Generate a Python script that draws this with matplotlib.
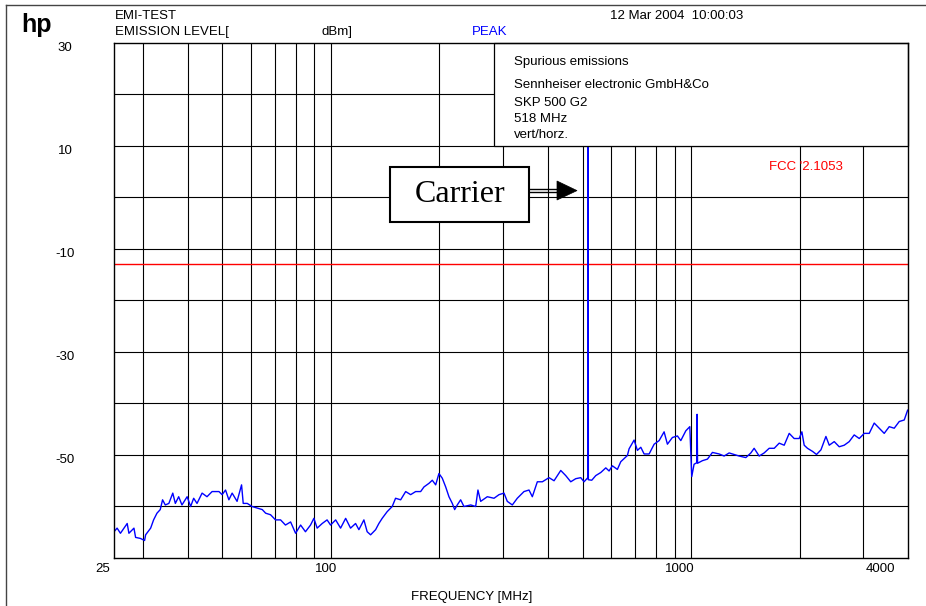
import matplotlib
matplotlib.use('Agg')
import matplotlib.pyplot as plt
from matplotlib.patches import Rectangle, Polygon
from matplotlib.lines import Line2D
from matplotlib.ticker import NullLocator
import matplotlib.transforms as mtransforms

# ---------------- data ----------------
freq_mhz = [
    25.0, 25.5, 26.05, 27.2, 27.5, 28.4, 28.7, 29.6, 30.4, 30.6,
    31.6, 32.2, 32.9, 33.6, 34.1, 34.7, 35.5, 36.4, 37.0, 37.8,
    38.6, 39.9, 40.8, 41.6, 42.5, 43.9, 45.3, 46.8, 48.9, 49.9,
    51.0, 52.1, 53.2, 54.9, 56.5, 57.1, 58.6, 60.4, 62.4, 64.5,
    65.9, 68.0, 70.2, 72.5, 74.8, 77.3, 79.8, 82.4, 85.0, 87.8,
    89.7, 91.6, 94.6, 97.6, 99.8, 103.1, 106.4, 109.9, 113.4, 117.1,
    119.6, 123.5, 126.1, 128.9, 133.1, 135.9, 138.8, 143.3, 148.0, 151.2,
    156.2, 161.3, 166.5, 171.9, 177.5, 181.3, 187.2, 191.2, 195.4, 199.5,
    203.8, 208.3, 212.7, 217.3, 220.6, 224.3, 229.2, 234.1, 244.4, 252.3,
    256.0, 260.5, 271.8, 283.7, 292.9, 302.4, 308.8, 318.9, 329.2, 343.6,
    354.8, 362.4, 374.2, 386.4, 390.6, 403.3, 416.4, 434.6, 448.7, 463.3,
    478.3, 493.9, 504.4, 515.2, 517.5, 518.0, 518.5, 529.9, 543.6, 561.3,
    579.6, 591.9, 604.5, 624.2, 637.9, 651.5, 665.4, 672.7, 694.6, 709.4,
    725.0, 740.5, 764.6, 789.5, 815.2, 841.4, 859.4, 887.3, 916.1, 936.2,
    966.7, 991.7, 1004, 1019, 1037, 1039, 1042, 1075, 1110, 1146,
    1196, 1235, 1275, 1317, 1359, 1419, 1465, 1496, 1545, 1595,
    1647, 1701, 1756, 1813, 1872, 1932, 1995, 2030, 2060, 2104,
    2173, 2229, 2293, 2367, 2418, 2496, 2577, 2661, 2747, 2836,
    2929, 3024, 3122, 3223, 3328, 3436, 3548, 3663, 3782, 3905,
    3990,
]
level_dbm = [
    -64.9, -64.2, -65.2, -63.3, -65.2, -64.2, -66.0, -66.2, -66.6, -65.5,
    -64.2, -62.6, -61.3, -60.6, -58.7, -59.7, -59.4, -57.4, -59.4, -58.1,
    -59.7, -58.1, -60.0, -58.4, -59.4, -57.4, -58.1, -57.1, -57.1, -57.7,
    -56.8, -58.7, -57.4, -59.0, -55.8, -59.4, -59.4, -60.0, -60.3, -60.6,
    -61.3, -61.6, -62.6, -62.6, -63.6, -63.0, -65.2, -63.6, -64.9, -63.6,
    -62.3, -64.2, -63.3, -62.6, -63.6, -62.6, -64.2, -62.3, -64.2, -63.3,
    -64.5, -62.6, -64.9, -65.5, -64.5, -63.3, -62.3, -61.0, -60.0, -58.4,
    -58.7, -57.1, -57.7, -57.1, -57.1, -56.2, -55.5, -54.9, -55.8, -53.6,
    -54.5, -56.2, -58.1, -59.4, -60.6, -59.7, -58.7, -60.0, -59.7, -60.0,
    -56.8, -59.0, -58.1, -58.4, -57.7, -57.4, -59.0, -59.7, -58.4, -57.1,
    -56.8, -58.1, -55.2, -55.2, -55.0, -54.4, -55.0, -53.0, -54.0, -55.2,
    -54.6, -54.4, -55.2, -54.5, -54.6, 15.0, -54.8, -54.9, -54.0, -53.4,
    -52.5, -53.1, -52.1, -52.8, -51.3, -50.7, -50.1, -48.8, -47.1, -49.1,
    -48.5, -49.8, -49.8, -47.9, -47.2, -45.5, -47.9, -46.6, -46.3, -47.2,
    -45.3, -44.5, -54.2, -51.8, -51.5, -42.1, -51.6, -51.1, -50.8, -49.5,
    -49.8, -50.2, -49.6, -49.9, -50.2, -50.5, -49.6, -48.7, -50.2, -49.6,
    -48.7, -48.7, -47.7, -48.1, -45.8, -46.8, -46.8, -45.5, -48.1, -48.7,
    -49.3, -49.9, -49.0, -46.4, -48.1, -47.4, -48.4, -48.1, -47.4, -46.1,
    -46.8, -45.8, -45.8, -43.8, -44.8, -45.8, -44.5, -44.8, -43.5, -43.2,
    -41.3,
]
x_grid = [30, 40, 50, 60, 70, 80, 90, 100, 200, 300, 400, 500, 600, 700,
          800, 900, 1000, 2000, 3000]
y_grid = [-60, -50, -40, -30, -20, -10, 0, 10, 20]
x_ticks = [25, 100, 1000, 4000]
x_tick_labels = ['25', '100', '1000', '4000']
y_ticks = [30, 10, -10, -30, -50]
y_tick_labels = ['30', '10', '-10', '-30', '-50']
limit_dbm = -13
x_range = (25, 4000)
y_range = (-70, 30)

info_lines = ['Spurious emissions', 'Sennheiser electronic GmbH&Co',
              'SKP 500 G2', '518 MHz', 'vert/horz.']

# ---------------- figure ----------------
W, H, DPI = 926, 606, 100
plt.rcParams['font.family'] = ['Liberation Sans', 'DejaVu Sans']
fig = plt.figure(figsize=(W / DPI, H / DPI), dpi=DPI)
fig.patch.set_facecolor('white')


def fx(px):
    return px / W


def fy(py):
    return 1 - py / H


L, R, T, B = 114, 908, 43, 558
ax = fig.add_axes([fx(L), fy(B), (R - L) / W, (B - T) / H])
ax.set_xscale('log')
ax.set_xlim(*x_range)
ax.set_ylim(*y_range)
ax.set_xticks([])
ax.set_yticks([])
ax.xaxis.set_minor_locator(NullLocator())
ax.yaxis.set_minor_locator(NullLocator())
for s in ax.spines.values():
    s.set_linewidth(1.0)
    s.set_color('black')
    s.set_zorder(6)

for f in x_grid:
    ax.axvline(f, color='black', lw=0.8, zorder=1)
for v in y_grid:
    ax.axhline(v, color='black', lw=0.8, zorder=1)

ax.axhline(limit_dbm, color='red', lw=1.0, zorder=2.5)
ax.plot(freq_mhz, level_dbm, color='#0000ff', lw=1.0, zorder=3)

# info box (top right)
bx = (494 - L) / (R - L)
ax.add_patch(Rectangle((bx, 0.8), 1 - bx, 0.2, transform=ax.transAxes,
                       facecolor='white', edgecolor='black', lw=0.9,
                       zorder=5, clip_on=False))
for txt, base in zip(info_lines, [65, 88, 106, 122, 138]):
    fig.text(fx(514), fy(base), txt, fontsize=9.5, va='baseline', ha='left',
             zorder=7)

# FCC label
ax.text((769 - L) / (R - L), (558 - 170.5) / (B - T), "FCC '2.1053",
        transform=ax.transAxes, color='red', fontsize=9.5, va='baseline',
        ha='left', zorder=2)

# Carrier box + arrow
ax.add_patch(Rectangle(((390 - L) / (R - L), (B - 222) / (B - T)),
                       (529 - 390) / (R - L), (222 - 167) / (B - T),
                       transform=ax.transAxes, facecolor='white',
                       edgecolor='black', lw=1.5, zorder=5))
ax.text((460 - L) / (R - L), (B - 195) / (B - T), 'Carrier',
        transform=ax.transAxes, fontsize=23, ha='center', va='center',
        family=['Liberation Serif', 'DejaVu Serif'], zorder=6)
for yy in (189.3, 191.8):
    fig.add_artist(Line2D([fx(529), fx(558)], [fy(yy), fy(yy)],
                          color='black', lw=1.0))
fig.add_artist(Polygon([(fx(557), fy(181)), (fx(577), fy(190.6)),
                        (fx(557), fy(200))], closed=True,
                       facecolor='black', edgecolor='black', lw=0.5))

# y tick labels
ytrans = mtransforms.offset_copy(
    mtransforms.blended_transform_factory(fig.transFigure, ax.transData),
    fig=fig, x=0, y=-7.7, units='dots')
for v, lab in zip(y_ticks, y_tick_labels):
    fig.text(fx(65), v, lab, transform=ytrans, fontsize=9.5, ha='center',
             va='baseline')

# x tick labels
x_offsets = [-11, -5, -11, -28]
for f, lab, off in zip(x_ticks, x_tick_labels, x_offsets):
    tr = mtransforms.offset_copy(
        mtransforms.blended_transform_factory(ax.transData, fig.transFigure),
        fig=fig, x=off, y=0, units='dots')
    fig.text(f, fy(572), lab, transform=tr, fontsize=9.5, ha='center',
             va='baseline')

fig.text(fx(472), fy(600), 'FREQUENCY [MHz]', fontsize=9.5, ha='center',
         va='baseline')

# header
fig.text(fx(21), fy(32), 'hp', fontsize=18, ha='left', va='baseline',
         fontweight='bold')
fig.text(fx(115), fy(19.3), 'EMI-TEST', fontsize=9.5, ha='left', va='baseline')
fig.text(fx(115), fy(35), 'EMISSION LEVEL[', fontsize=9.5, ha='left',
         va='baseline')
fig.text(fx(322), fy(35), 'dBm]', fontsize=9.5, ha='left', va='baseline')
fig.text(fx(472), fy(35), 'PEAK', fontsize=9.5, ha='left', va='baseline',
         color='#0000ff')
fig.text(fx(610), fy(19.3), '12 Mar 2004  10:00:03', fontsize=9.5, ha='left',
         va='baseline')

# outer frame (top and left)
fig.add_artist(Line2D([fx(6), fx(6)], [fy(606), fy(5)], color='#444444', lw=1.0))
fig.add_artist(Line2D([fx(6), 1.0], [fy(5), fy(5)], color='#444444', lw=1.0))

fig.savefig('out.png', dpi=DPI)
